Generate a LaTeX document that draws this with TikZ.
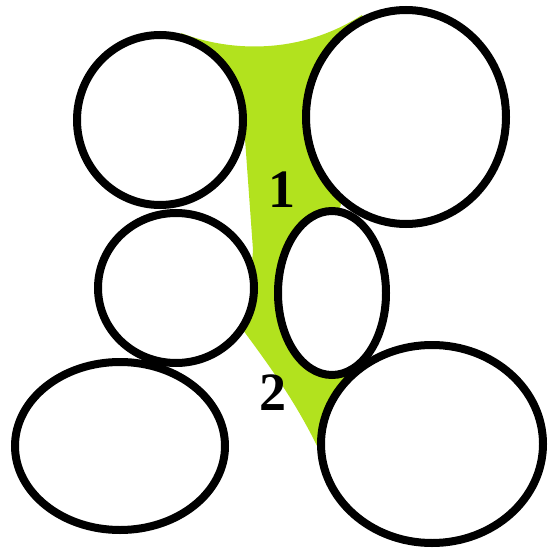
\documentclass[tikz,border=0pt]{standalone}
\usepackage{fontspec}
\setmainfont{Liberation Serif}
\definecolor{limegreen}{RGB}{178,226,30}
\begin{document}
\begin{tikzpicture}[x=1pt,y=-1pt,
  cell/.style={draw=black,fill=white,line width=8pt},
  numlabel/.style={font=\fontsize{54}{54}\selectfont\bfseries,inner sep=0pt}]
\useasboundingbox (0,0) rectangle (547,548);
% green channel
\fill[limegreen] (181,33) .. controls (230,52) and (300,55) .. (362,15)
  -- (380,60) -- (340,208) -- (330,290) -- (346,377) -- (360,420) -- (318,448)
  .. controls (295,400) and (265,360) .. (243,330)
  -- (250,290) -- (253,250) -- (244,125) -- (200,60) -- cycle;
% cells
\draw[cell] (160,120) ellipse [x radius=83, y radius=85];
\draw[cell] (406,117) ellipse [x radius=100, y radius=107];
\draw[cell] (176,288) ellipse [x radius=78, y radius=75];
\draw[cell] (332,293) ellipse [x radius=54, y radius=82];
\draw[cell] (120,446) ellipse [x radius=105, y radius=84];
\draw[cell] (432,444) ellipse [x radius=111, y radius=99];
% labels
\node[numlabel] (one) at (282,190) {1};
\node[numlabel] (two) at (273,393) {2};
\end{tikzpicture}
\end{document}
